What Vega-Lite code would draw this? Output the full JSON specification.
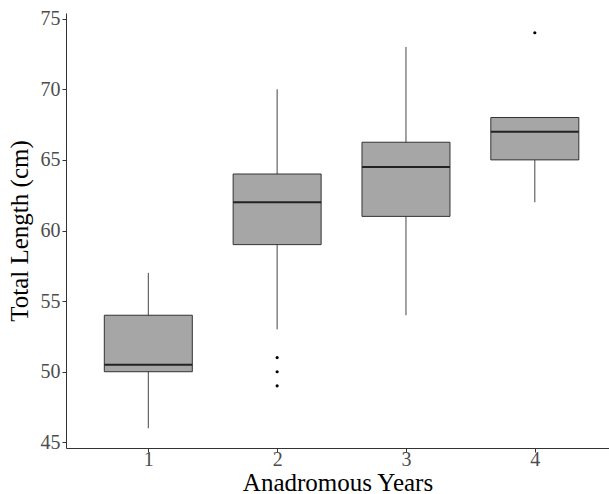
{
  "$schema": "https://vega.github.io/schema/vega-lite/v6.json",
  "width": 543,
  "height": 435,
  "autosize": "none",
  "padding": {"left": 66, "top": 13, "right": 0, "bottom": 46},
  "background": "white",
  "config": {
    "view": {"stroke": null},
    "font": "Liberation Serif",
    "axis": {
      "grid": false,
      "domainColor": "#333333",
      "domainWidth": 1,
      "tickColor": "#333333",
      "tickSize": 4,
      "labelColor": "#4d4d4d",
      "labelFont": "Liberation Serif",
      "labelFontSize": 20,
      "titleFont": "Liberation Serif",
      "titleFontSize": 25,
      "titleFontWeight": "normal",
      "titleColor": "black"
    }
  },
  "datasets": {
    "stats": [
      {"year": 1, "lower": 46, "q1": 50, "median": 50.5, "q3": 54, "upper": 57},
      {"year": 2, "lower": 53, "q1": 59, "median": 62, "q3": 64, "upper": 70},
      {"year": 3, "lower": 54, "q1": 61, "median": 64.5, "q3": 66.25, "upper": 73},
      {"year": 4, "lower": 62, "q1": 65, "median": 67, "q3": 68, "upper": 68}
    ],
    "outliers": [
      {"year": 2, "length": 51},
      {"year": 2, "length": 50},
      {"year": 2, "length": 49},
      {"year": 4, "length": 74}
    ]
  },
  "layer": [
    {
      "data": {"name": "stats"},
      "mark": {"type": "rule", "color": "#444444", "strokeWidth": 1},
      "encoding": {
        "x": {
          "field": "year", "type": "quantitative",
          "scale": {"domain": [0.4, 4.537], "nice": false, "zero": false},
          "axis": {"values": [1, 2, 3, 4], "format": "d", "title": "Anadromous Years", "labelPadding": -3, "titlePadding": 1}
        },
        "y": {
          "field": "lower", "type": "quantitative",
          "scale": {"domain": [44.6, 75.4], "nice": false, "zero": false},
          "axis": {"values": [45, 50, 55, 60, 65, 70, 75], "title": "Total Length (cm)", "labelPadding": 2, "titlePadding": 8}
        },
        "y2": {"field": "upper"}
      }
    },
    {
      "data": {"name": "stats"},
      "mark": {"type": "bar", "size": 88, "fill": "#a6a6a6", "stroke": "#333333", "strokeWidth": 1},
      "encoding": {
        "x": {"field": "year", "type": "quantitative"},
        "y": {"field": "q1", "type": "quantitative"},
        "y2": {"field": "q3"}
      }
    },
    {
      "data": {"name": "stats"},
      "mark": {"type": "tick", "orient": "horizontal", "size": 88, "thickness": 2, "color": "#222222", "opacity": 1},
      "encoding": {
        "x": {"field": "year", "type": "quantitative"},
        "y": {"field": "median", "type": "quantitative"}
      }
    },
    {
      "data": {"name": "outliers"},
      "mark": {"type": "circle", "size": 10, "color": "black", "opacity": 1},
      "encoding": {
        "x": {"field": "year", "type": "quantitative"},
        "y": {"field": "length", "type": "quantitative"}
      }
    }
  ]
}
